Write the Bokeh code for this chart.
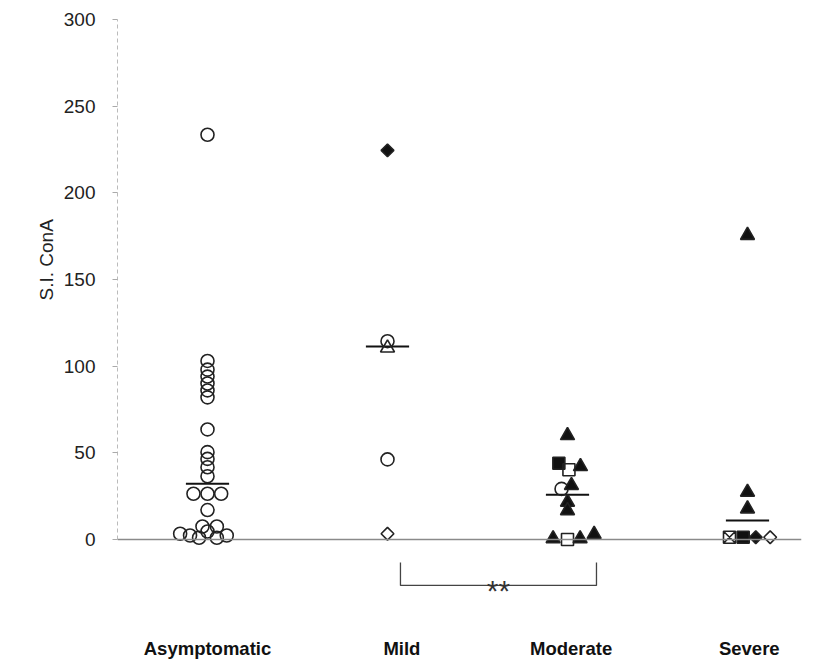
import math
from bokeh.plotting import figure
from bokeh.models import FixedTicker, Span, ColumnDataSource, Range1d, Title, LinearAxis
from bokeh.embed import file_html
from bokeh.resources import INLINE
from bokeh.core.properties import value

# ---------------- data ----------------
categories = ["Asymptomatic", "Mild", "Moderate", "Severe"]
y_ticks = [0, 50, 100, 150, 200, 250, 300]
y_label = "S.I. ConA"

asym_vals = [233.5, 103, 98, 94, 90, 86, 82, 63.5, 50.4, 46.5, 41.7, 36.5,
             26.4, 26.4, 26.4, 17.0, 3.3, 2.3, 1.0, 7.5, 4.6, 7.5, 1.0, 2.3]
asym_kind = ["open_circle"] * 24
asym_dx = [0] * 12 + [-0.078, 0, 0.076, 0, -0.152, -0.097, -0.047, -0.028,
                      0, 0.052, 0.052, 0.107]

mild_vals = [224.5, 114.4, 110.5, 46.2, 3.3]
mild_kind = ["filled_diamond", "open_circle", "open_triangle", "open_circle", "open_diamond"]
mild_dx = [0, 0, 0, 0, 0]

mod_vals = [60, 44, 40.2, 42.1, 29.2, 31.2, 21.5, 16.7, 0.5, 0, 0.5, 3.0]
mod_kind = ["filled_triangle", "filled_square", "open_square", "filled_triangle",
            "open_circle", "filled_triangle", "filled_triangle", "filled_triangle",
            "filled_triangle", "open_square", "filled_triangle", "filled_triangle"]
mod_dx = [0, -0.048, 0.008, 0.072, -0.033, 0.022, 0, 0, -0.08, 0, 0.07, 0.148]

sev_vals = [175.5, 27.3, 17.7, 1.3, 1.3, 1.3, 1.3]
sev_kind = ["filled_triangle", "filled_triangle", "filled_triangle", "crossed_square",
            "filled_square", "filled_diamond", "open_diamond"]
sev_dx = [0, 0, 0, -0.1, -0.024, 0.046, 0.126]

median_vals = [32.1, 111.4, 25.8, 11.0]

sig_groups = ("Mild", "Moderate")
sig_text = "**"

# ---------------- styles ----------------
# kind -> (marker, fill, size, angle)
kind_style = {
    "open_circle":     ("circle", None, 13, 0.0),
    "open_triangle":   ("triangle", None, 14, 0.0),
    "open_diamond":    ("square", None, 9, math.pi / 4),
    "open_square":     ("square", None, 12, 0.0),
    "filled_triangle": ("triangle", "#111111", 14, 0.0),
    "filled_square":   ("square", "#111111", 12, 0.0),
    "filled_diamond":  ("square", "#111111", 9, math.pi / 4),
    "crossed_square":  ("square_x", None, 12, 0.0),
}

groups = [(asym_vals, asym_kind, asym_dx), (mild_vals, mild_kind, mild_dx),
          (mod_vals, mod_kind, mod_dx), (sev_vals, sev_kind, sev_dx)]

xs, ys, markers, fills, sizes, angles = [], [], [], [], [], []
for i, (vals, kinds, dxs) in enumerate(groups):
    pos = i + 1
    for v, k, d in zip(vals, kinds, dxs):
        m, f, s, a = kind_style[k]
        xs.append(pos + d)
        ys.append(v)
        markers.append(m)
        fills.append(f if f else "rgba(0,0,0,0)")
        sizes.append(s)
        angles.append(a)

src = ColumnDataSource(dict(x=xs, y=ys, marker=markers, fill=fills, size=sizes, angle=angles))

px_per_unit = 520 / 300.0
y_start = -60 / px_per_unit

p = figure(frame_width=684, frame_height=580,
           min_border_left=117, min_border_top=19, min_border_bottom=63, min_border_right=28,
           x_range=Range1d(0.5, 4.3), y_range=Range1d(y_start, 300),
           output_backend="svg", toolbar_location=None)
p.outline_line_color = None
p.grid.visible = False
p.background_fill_color = "white"

# y axis
p.yaxis.ticker = FixedTicker(ticks=y_ticks)
p.yaxis.bounds = (0, 300)
p.yaxis.axis_line_color = "#bbbbbb"
p.yaxis.axis_line_dash = "4 3"
p.yaxis.axis_line_width = 1
p.yaxis.major_tick_out = 5
p.yaxis.major_tick_in = 0
p.yaxis.major_tick_line_color = "#aaaaaa"
p.yaxis.minor_tick_line_color = None
p.yaxis.major_label_text_font = "Liberation Sans"
p.yaxis.major_label_text_font_size = "19px"
p.yaxis.major_label_text_color = "#222222"
p.yaxis.major_label_standoff = 17

# blank spacer between the tick labels and the axis title (no ticks drawn)
spacer = LinearAxis(ticker=FixedTicker(ticks=[]), axis_line_color=None,
                    major_tick_line_color="white", minor_tick_line_color=None,
                    major_tick_out=24, major_tick_in=0, minor_tick_out=0,
                    major_label_standoff=0)
p.add_layout(spacer, "left")

# y axis title placed in the left side panel, shifted up along the axis
p.add_layout(Title(text=y_label, align="left", vertical_align="top", offset=299, standoff=4,
                   text_font="Liberation Sans", text_font_size="19px",
                   text_font_style="normal", text_color="#222222"), "left")

# x axis (category labels)
label_pos = [1.0, 2.08, 3.02, 4.01]
p.xaxis.ticker = FixedTicker(ticks=label_pos)
p.xaxis.major_label_overrides = {pos: c for pos, c in zip(label_pos, categories)}
p.xaxis.axis_line_color = None
p.xaxis.major_tick_line_color = None
p.xaxis.major_tick_out = 0
p.xaxis.major_tick_in = 0
p.xaxis.minor_tick_line_color = None
p.xaxis.major_label_text_font = "Liberation Sans"
p.xaxis.major_label_text_font_style = "bold"
p.xaxis.major_label_text_font_size = "18.5px"
p.xaxis.major_label_text_color = "#111111"
p.xaxis.major_label_standoff = 38

# baseline at zero
p.add_layout(Span(location=0, dimension="width", line_color="#8a8a8a", line_width=1.5))

# medians
med_x = [i + 1 for i in range(len(categories))]
p.segment(x0=[x - 0.12 for x in med_x], x1=[x + 0.12 for x in med_x],
          y0=median_vals, y1=median_vals, line_color="#111111", line_width=2)

# points
p.scatter(x="x", y="y", marker="marker", size="size", angle="angle", fill_color="fill",
          line_color="#222222", line_width=1.6, source=src)

# significance bracket
a = categories.index(sig_groups[0]) + 1 + 0.072
b = categories.index(sig_groups[1]) + 1 + 0.161
top, bot = -13.3, -26.5
p.line(x=[a, a, b, b], y=[top, bot, bot, top], line_color="#444444", line_width=1.3)
p.text(x=[(a + b) / 2], y=[-29.5], text=[sig_text], text_align="center",
       text_baseline="alphabetic", text_font=value("Liberation Sans"),
       text_font_size="30px", text_color="#333333")

open("out.html", "w").write(file_html(p, INLINE))
